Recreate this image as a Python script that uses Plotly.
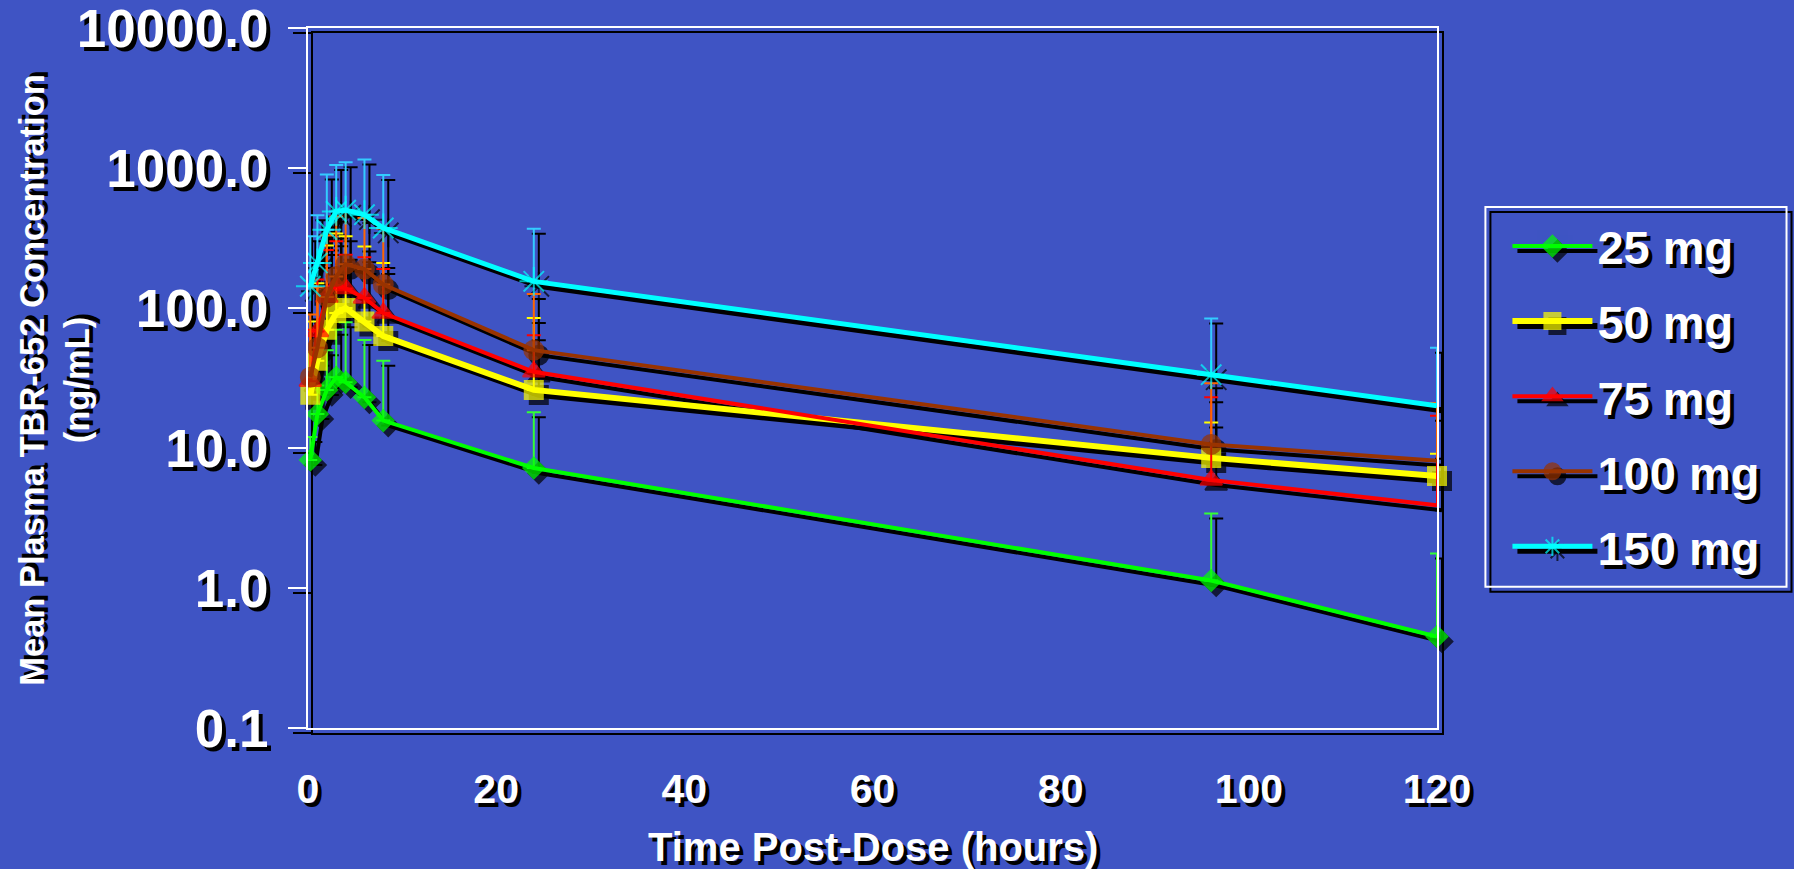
import plotly.graph_objects as go

# ---------------- data ----------------
times = [0.25, 1, 2, 3, 4, 6, 8, 24, 96, 120]

dose_labels = ["25 mg", "50 mg", "75 mg", "100 mg", "150 mg"]

conc_25 = [8.2, 17.5, 26, 32, 29.5, 23, 15.7, 7.2, 1.13, 0.45]
conc_50 = [24, 42, 70, 92, 100, 80, 63, 26, 8.5, 6.3]
conc_75 = [30, 68, 120, 145, 138, 118, 92, 35, 5.9, 3.9]
conc_100 = [32, 52, 120, 168, 205, 190, 147, 50, 10.6, 8.1]
conc_150 = [143, 210, 363, 490, 500, 464, 373, 155, 33.4, 20]

# upper end of error bars (mean + SD)
upper_25 = [12, 28, 50, 70, 79, 59, 42, 18, 3.4, 1.76]
upper_50 = [80, 150, 280, 340, 325, 275, 210, 85, 15.2, 9.1]
upper_75 = [70, 160, 260, 300, 240, 230, 190, 64, 23, 17]
upper_100 = [90, 140, 330, 450, 500, 440, 370, 126, 29, 21]
upper_150 = [325, 460, 900, 1050, 1100, 1150, 890, 368, 84, 52]

y_tick_vals = [0.1, 1, 10, 100, 1000, 10000]
y_tick_text = ["0.1", "1.0", "10.0", "100.0", "1000.0", "10000.0"]
x_tick_vals = [0, 20, 40, 60, 80, 100, 120]
x_tick_text = ["0", "20", "40", "60", "80", "100", "120"]

x_title = "Time Post-Dose (hours)"
y_title = "Mean Plasma TBR-652 Concentration<br>(ng/mL)"

# ---------------- styling ----------------
BG = "#3F54C4"
series = [
    dict(name=dose_labels[0], y=conc_25, up=upper_25, color="#00FF00", ecolor="#33FF33",
         symbol="diamond", size=16, width=4, last_marker=True),
    dict(name=dose_labels[1], y=conc_50, up=upper_50, color="#FFFF00", ecolor="#FFFF00",
         symbol="square", size=18, width=6, last_marker=True),
    dict(name=dose_labels[2], y=conc_75, up=upper_75, color="#FF0000", ecolor="#FF0000",
         symbol="triangle-up", size=19, width=4, last_marker=False),
    dict(name=dose_labels[3], y=conc_100, up=upper_100, color="#993300", ecolor="#FF6600",
         symbol="circle", size=19, width=4, last_marker=False),
    dict(name=dose_labels[4], y=conc_150, up=upper_150, color="#00FFFF", ecolor="#33CCFF",
         symbol="asterisk-open", size=24, width=5, last_marker=False),
]

FIG_W, FIG_H = 1794, 869
L, R, T, B = 308.3, 1436.6, 28.3, 728.3   # real plot area in px
S = 5                                      # shadow offset in px
ml, mt = 308.0, 28.0
mr = FIG_W - (R + S)
mb = FIG_H - (B + S)
PW = FIG_W - ml - mr
PH = FIG_H - mt - mb


def px_x(px):
    return (px - ml) / PW


def px_y(py):
    return 1 - (py - mt) / PH


SHADOW = "4px 4px 0px #000000"
FONT = "Liberation Sans, Arial, sans-serif"
LEG_X, LEG_Y = 1507, 209

fig = go.Figure()

# shadow traces (on x / y, offset by S px) -> first legend, drawn underneath
for i, s in enumerate(series):
    n = len(times)
    sizes = [s["size"]] * n
    if not s["last_marker"]:
        sizes[-1] = 0
    plus = [u - v for u, v in zip(s["up"], s["y"])]
    fig.add_trace(go.Scatter(
        x=times, y=s["y"], mode="lines+markers", name="\u00a0", hoverinfo="skip",
        legend="legend", legendgroup="s" + str(i),
        xaxis="x", yaxis="y", cliponaxis=False,
        line=dict(color="#000000", width=s["width"]),
        marker=dict(symbol=s["symbol"], size=sizes, color="#000000",
                    line=dict(color="#000000", width=2)),
        error_y=dict(type="data", array=plus, arrayminus=[0] * n, symmetric=False,
                     color="#000000", thickness=2, width=7),
    ))

# real traces (on x2 / y2) -> second legend, drawn on top
for i, s in enumerate(series):
    n = len(times)
    sizes = [s["size"]] * n
    if not s["last_marker"]:
        sizes[-1] = 0
    plus = [u - v for u, v in zip(s["up"], s["y"])]
    fig.add_trace(go.Scatter(
        x=times, y=s["y"], mode="lines+markers", name=s["name"],
        legend="legend2", legendgroup=str(i),
        xaxis="x2", yaxis="y2", cliponaxis=False,
        line=dict(color=s["color"], width=s["width"]),
        marker=dict(symbol=s["symbol"], size=sizes, color=s["color"],
                    line=dict(color=s["color"], width=2)),
        error_y=dict(type="data", array=plus, arrayminus=[0] * n, symmetric=False,
                     color=s["ecolor"], thickness=2, width=7),
    ))

YR = [-1.0002, 4.0002]
common_y = dict(type="log", range=YR, showgrid=False, zeroline=False,
                tickvals=y_tick_vals, ticktext=y_tick_text, ticks="outside",
                ticklen=18, tickwidth=2, showline=True, mirror=True, linewidth=2,
                ticklabeloverflow="allow")
common_x = dict(range=[0, 120], showgrid=False, zeroline=False,
                tickvals=x_tick_vals, ticktext=x_tick_text, ticks="",
                showline=True, mirror=True, linewidth=2, ticklabeloverflow="allow")

legend_common = dict(xanchor="left", yanchor="top", bgcolor="rgba(0,0,0,0)",
                     borderwidth=0, itemwidth=80, traceorder="grouped",
                     tracegroupgap=11, itemsizing="trace")

fig.update_layout(
    width=FIG_W, height=FIG_H,
    paper_bgcolor=BG, plot_bgcolor="rgba(0,0,0,0)",
    margin=dict(l=ml, r=mr, t=mt, b=mb, pad=0, autoexpand=False),
    showlegend=True,
    xaxis=dict(**common_x, domain=[S / PW, 1], anchor="y", linecolor="#000000",
               showticklabels=False),
    yaxis=dict(**common_y, domain=[0, 1 - S / PH], anchor="x", linecolor="#000000",
               tickcolor="#000000", showticklabels=False),
    xaxis2=dict(**common_x, domain=[0, 1 - S / PW], anchor="y2", linecolor="#FFFFFF",
                ticklabelstandoff=24,
                tickfont=dict(family=FONT, size=41, color="#FFFFFF", weight="bold",
                              shadow=SHADOW)),
    yaxis2=dict(**common_y, domain=[S / PH, 1], anchor="x2", linecolor="#FFFFFF",
                tickcolor="#FFFFFF", ticklabelstandoff=9,
                tickfont=dict(family=FONT, size=53, color="#FFFFFF", weight="bold",
                              shadow=SHADOW)),
    legend=dict(**legend_common, x=px_x(LEG_X + S), y=px_y(LEG_Y + S),
                font=dict(family=FONT, size=47, color="rgba(0,0,0,0)", weight="bold")),
    legend2=dict(**legend_common, x=px_x(LEG_X), y=px_y(LEG_Y),
                 font=dict(family=FONT, size=47, color="#FFFFFF", weight="bold",
                           shadow=SHADOW)),
    annotations=[
        dict(text=y_title, xref="paper", yref="paper", x=px_x(55), y=px_y(380),
             xanchor="center", yanchor="middle", textangle=-90, showarrow=False,
             font=dict(family=FONT, size=34.5, color="#FFFFFF", weight="bold",
                       shadow=SHADOW)),
        dict(text=x_title, xref="paper", yref="paper", x=px_x(873), y=px_y(847),
             xanchor="center", yanchor="middle", showarrow=False,
             font=dict(family=FONT, size=40, color="#FFFFFF", weight="bold",
                       shadow=SHADOW)),
    ],
    shapes=[
        dict(type="rect", xref="paper", yref="paper", layer="above",
             x0=px_x(1490), x1=px_x(1791), y0=px_y(592), y1=px_y(212),
             line=dict(color="#000000", width=2)),
        dict(type="rect", xref="paper", yref="paper", layer="above",
             x0=px_x(1485), x1=px_x(1786), y0=px_y(587), y1=px_y(207),
             line=dict(color="#FFFFFF", width=2)),
    ],
)

fig.write_html("out.html", config={"displayModeBar": False},
               post_script="document.body.style.margin='0px';")
